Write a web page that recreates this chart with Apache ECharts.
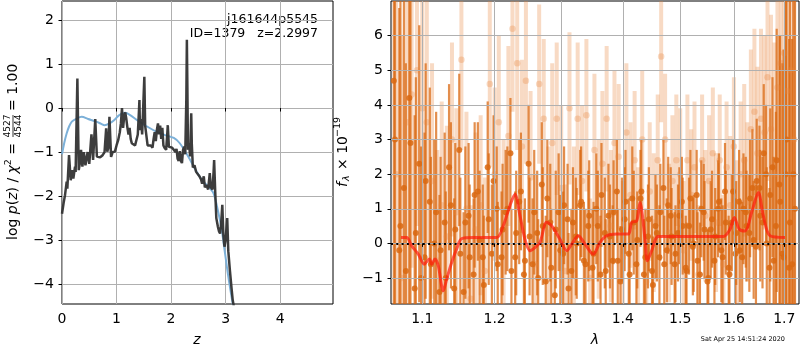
<!DOCTYPE html>
<html>
<head>
<meta charset="utf-8">
<script src="https://cdn.jsdelivr.net/npm/echarts@6/dist/echarts.min.js"></script>
<style>
  html, body { margin: 0; padding: 0; background: #fff; }
  #main { width: 800px; height: 350px; }
</style>
</head>
<body>
<div id="main"></div>
<script>
// left panel: log p(z) on a redshift grid, plus the smoother prior curve
var zGrid = [0.00, 0.03, 0.055, 0.086, 0.098, 0.129, 0.16, 0.184, 0.208, 0.239, 0.25, 0.282, 0.307, 0.331, 0.349, 0.374,
  0.40, 0.43, 0.47, 0.50, 0.54, 0.57, 0.61, 0.64, 0.66, 0.70, 0.74, 0.76, 0.78, 0.81, 0.83, 0.85, 0.87, 0.90, 0.93,
  0.97, 1.00, 1.03, 1.06, 1.08, 1.10, 1.12, 1.14, 1.16, 1.18, 1.20, 1.22, 1.24, 1.26, 1.28, 1.31, 1.34, 1.37, 1.39,
  1.41, 1.42, 1.43, 1.45, 1.47, 1.49, 1.51, 1.525, 1.55, 1.57, 1.60, 1.63, 1.66, 1.68, 1.70, 1.72, 1.74, 1.76, 1.78,
  1.80, 1.82, 1.84, 1.86, 1.88, 1.91, 1.93, 1.94, 1.96, 1.99, 2.02, 2.05, 2.08, 2.10, 2.12, 2.14, 2.16, 2.18, 2.20,
  2.22, 2.24, 2.26, 2.28, 2.29, 2.30, 2.31, 2.33, 2.35, 2.37, 2.38, 2.40, 2.43, 2.46, 2.49, 2.52, 2.55, 2.57, 2.60,
  2.62, 2.65, 2.68, 2.71, 2.73, 2.76, 2.78, 2.79, 2.81, 2.83, 2.86, 2.88, 2.90, 2.92, 2.94, 2.96, 2.98, 3.00, 3.03,
  3.05, 3.08, 3.11, 3.13, 3.15];
var logPz = [-2.40, -2.15, -1.98, -1.67, -1.83, -1.07, -1.64, -1.41, -1.60, -1.33, -1.45, 0.67, -1.41, -1.22, -0.95, -1.33,
  -1.00, -1.30, -1.00, -1.27, -0.60, -1.18, -0.25, -1.10, -1.11, -1.12, -1.08, -1.07, -1.00, -0.46, -0.99, -0.90, -0.20, -1.11, -1.00,
  -0.99, -0.85, -0.73, -0.55, -0.35, 0.00, -0.45, -0.20, -0.10, -0.25, -0.45, -0.60, -0.45, -0.70, -0.80, -0.78, -0.85, -0.82, -0.60,
  -0.10, 0.18, -0.50, -0.25, -0.60, 0.05, 0.71, -0.40, -0.65, -0.85, -0.88, -0.85, -0.90, -0.70, -0.55, -0.75, -0.50, -0.35, -0.60,
  -0.40, -0.70, -0.45, -0.85, -0.90, -0.95, -0.60, -0.39, -0.88, -0.92, -0.90, -0.95, -1.00, -0.93, -1.15, -1.20, -0.98, -1.20, -1.25,
  -0.95, -0.88, -1.05, 0.20, 1.55, 0.40, -0.95, -0.80, -1.10, -0.12, -0.80, -1.35, -1.30, -1.45, -1.45, -1.55, -1.62, -1.72, -1.55,
  -1.80, -1.75, -1.85, -1.48, -1.80, -1.85, -1.45, -1.18, -1.90, -2.50, -2.70, -2.80, -2.85, -2.60, -2.20, -2.90, -3.15, -3.00, -2.50,
  -3.25, -3.70, -4.10, -4.35, -4.50];
var zPrior = [0.00, 0.04, 0.085, 0.13, 0.18, 0.27, 0.36, 0.48, 0.63, 0.72, 0.78, 0.87, 0.96, 1.05, 1.16, 1.25, 1.37,
  1.56, 1.72, 1.88, 2.05, 2.16, 2.32, 2.45, 2.57, 2.69, 2.78, 2.87, 2.93, 2.99, 3.05, 3.12, 3.15];
var logPrior = [-1.05, -0.80, -0.58, -0.42, -0.31, -0.24, -0.20, -0.25, -0.31, -0.36, -0.39, -0.35, -0.27, -0.16, -0.11, -0.16, -0.27,
  -0.42, -0.53, -0.61, -0.68, -0.80, -1.11, -1.41, -1.64, -1.79, -1.94, -2.39, -2.77, -3.30, -3.83, -4.36, -4.55];

// right panel: spectrum points with errors and the model
var darkWave = [1.063, 1.070, 1.076, 1.083, 1.090, 1.096, 1.103, 1.110, 1.116, 1.123, 1.130, 1.136, 1.143, 1.150, 1.156,
  1.163, 1.170, 1.176, 1.183, 1.190, 1.196, 1.203, 1.210, 1.216, 1.223, 1.230, 1.236, 1.243, 1.250, 1.256, 1.263, 1.270,
  1.276, 1.283, 1.290, 1.296, 1.303, 1.310, 1.316, 1.323, 1.330, 1.336, 1.343, 1.350, 1.356, 1.363, 1.370, 1.376, 1.383,
  1.390, 1.396, 1.403, 1.410, 1.416, 1.423, 1.430, 1.436, 1.443, 1.450, 1.456, 1.463, 1.470, 1.476, 1.483, 1.490, 1.496,
  1.503, 1.510, 1.516, 1.523, 1.530, 1.536, 1.543, 1.550, 1.556, 1.563, 1.570, 1.576, 1.583, 1.590, 1.596, 1.603, 1.610,
  1.616, 1.623, 1.630, 1.636, 1.643, 1.650, 1.656, 1.663, 1.670, 1.676, 1.683, 1.690, 1.696, 1.703, 1.710, 1.716, 1.722];
var darkFlux = [4.7, -0.2, 1.6, 4.2, -1.3, 2.3, -0.4, 1.2, 0.0, -1.4, 0.6, 2.2, -1.3, 2.7, -1.4,
  0.8, -0.9, 1.5, -0.4, 2.2, -0.3, 1.0, -0.4, 0.9, 2.6, -0.4, 1.2, -0.9, 2.3, -0.6, 0.3, 1.7,
  -1.1, 0.6, -1.5, 0.9, -0.3, 0.7, -0.8, 0.2, 1.1, -0.5, 0.5, -0.7, 1.0, -0.9, 0.3, 0.8, -0.5,
  1.5, -1.1, 0.7, -0.3, 1.3, -0.6, 1.3, -0.9, 0.2, -0.8, 0.5, -0.4, 1.6, -0.2, 0.8, -0.6, 0.3,
  1.2, -0.7, 0.5, -0.1, 1.4, -0.9, 0.9, -1.1, 0.4, -0.5, 1.0, -0.2, 1.5, -0.7, 0.6, -0.3, 1.2,
  -0.4, 0.9, 0.3, 1.6, -0.1, 1.6, 0.6, 2.0, -0.7, 2.2, 0.5, 1.7, -0.3, 2.0, -0.7, -0.6, 1.0];
var darkErr = [9.0, 7.0, 6.0, 7.0, 5.0, 4.0, 3.6, 3.3, 3.0, 2.8, 2.6, 2.4, 2.6, 2.2, 2.3,
  2.1, 2.2, 2.0, 2.1, 1.9, 2.0, 1.8, 1.9, 1.8, 1.6, 1.9, 1.8, 1.9, 1.7, 1.9, 1.8, 1.8,
  1.9, 1.7, 1.8, 1.7, 1.8, 1.6, 1.8, 1.7, 1.6, 1.7, 1.6, 1.7, 1.6, 1.7, 1.6, 1.5, 1.6,
  1.5, 1.6, 1.5, 1.6, 1.5, 1.6, 1.4, 1.6, 1.5, 1.6, 1.5, 1.5, 1.4, 1.5, 1.4, 1.5, 1.4,
  1.3, 1.5, 1.4, 1.4, 1.3, 1.5, 1.4, 1.5, 1.4, 1.5, 1.4, 1.5, 1.4, 1.5, 1.4, 1.6, 1.5,
  1.6, 1.6, 1.7, 1.7, 1.8, 1.8, 1.9, 2.0, 2.3, 2.6, 3.3, 4.3, 5.5, 7.0, 6.6, 6.5, 8.0];
var darkWave2 = [1.0645, 1.0715, 1.0785, 1.0845, 1.0915, 1.0985, 1.1045, 1.1115, 1.1185, 1.1245, 1.1315, 1.1385, 1.1445, 1.1515, 1.1585,
  1.1645, 1.1715, 1.1785, 1.1845, 1.1915, 1.1985, 1.2045, 1.2115, 1.2185, 1.2245, 1.2315, 1.2385, 1.2445, 1.2515, 1.2585, 1.2645, 1.2715,
  1.2785, 1.2845, 1.2915, 1.2985, 1.3045, 1.3115, 1.3185, 1.3245, 1.3315, 1.3385, 1.3445, 1.3515, 1.3585, 1.3645, 1.3715, 1.3785, 1.3845,
  1.3915, 1.3985, 1.4045, 1.4115, 1.4185, 1.4245, 1.4315, 1.4385, 1.4445, 1.4515, 1.4585, 1.4645, 1.4715, 1.4785, 1.4845, 1.4915, 1.4985,
  1.5045, 1.5115, 1.5185, 1.5245, 1.5315, 1.5385, 1.5445, 1.5515, 1.5585, 1.5645, 1.5715, 1.5785, 1.5845, 1.5915, 1.5985, 1.6045, 1.6115,
  1.6185, 1.6245, 1.6315, 1.6385, 1.6445, 1.6515, 1.6585, 1.6645, 1.6715, 1.6785, 1.6845, 1.6915, 1.6985, 1.7045, 1.7115, 1.7185];
var darkFlux2 = [3.0, 0.5, -0.8, 2.9, 0.3, -1.0, 1.8, -0.6, 0.9, -0.2, -1.0, 1.1, 0.4, -0.3, 0.6,
  -0.4, 1.4, 0.1, -1.2, 0.7, 1.8, -0.6, 0.4, 1.0, -0.8, 0.3, 1.5, -0.5, 0.2, 0.9, -1.0, 0.5,
  1.3, -0.7, 0.4, -0.2, 1.1, -1.3, 0.6, 0.0, 1.2, -0.6, 0.8, -0.3, 0.5, 1.4, -0.8, 0.2, 0.9,
  -0.5, 0.4, 1.2, -0.9, 0.6, 0.1, 1.5, -0.4, 0.7, -1.2, 0.3, 0.9, -0.6, 1.1, 0.2, -0.3, 0.8,
  0.5, -0.8, 1.3, 0.0, -0.5, 1.0, 0.4, -1.0, 0.7, 0.2, 1.2, -0.4, 0.6, -0.9, 1.5, 0.3, -0.2,
  1.0, 0.5, 1.3, 0.1, 1.8, 0.8, 2.6, 0.0, 1.4, -0.5, 2.4, 1.2, -0.4, 3.0, 0.6, 2.0];
var darkErr2 = [8.0, 6.5, 6.0, 5.5, 4.5, 3.8, 3.4, 3.1, 2.9, 2.7, 2.5, 2.4, 2.5, 2.2, 2.2,
  2.1, 2.1, 2.0, 2.0, 1.9, 1.9, 1.8, 1.9, 1.8, 1.8, 1.8, 1.7, 1.8, 1.7, 1.8, 1.7, 1.7,
  1.7, 1.7, 1.7, 1.6, 1.7, 1.6, 1.6, 1.6, 1.6, 1.6, 1.6, 1.5, 1.6, 1.5, 1.5, 1.5, 1.5,
  1.5, 1.5, 1.5, 1.5, 1.5, 1.4, 1.5, 1.4, 1.5, 1.4, 1.4, 1.4, 1.4, 1.4, 1.4, 1.4, 1.4,
  1.4, 1.4, 1.4, 1.4, 1.4, 1.4, 1.4, 1.4, 1.4, 1.4, 1.4, 1.5, 1.5, 1.5, 1.5, 1.5, 1.5,
  1.6, 1.6, 1.7, 1.7, 1.8, 1.9, 2.0, 2.2, 2.5, 3.0, 3.8, 4.8, 6.0, 7.5, 8.0, 9.0];
var lightWave = [1.066, 1.073, 1.080, 1.086, 1.093, 1.100, 1.106, 1.113, 1.120, 1.126, 1.133, 1.140, 1.146, 1.153, 1.160,
  1.166, 1.173, 1.180, 1.186, 1.193, 1.200, 1.206, 1.213, 1.220, 1.226, 1.233, 1.240, 1.246, 1.253, 1.260, 1.266, 1.273,
  1.280, 1.286, 1.293, 1.300, 1.306, 1.313, 1.320, 1.326, 1.333, 1.340, 1.346, 1.353, 1.360, 1.366, 1.373, 1.380, 1.386,
  1.393, 1.400, 1.406, 1.413, 1.420, 1.426, 1.433, 1.440, 1.446, 1.453, 1.460, 1.466, 1.473, 1.480, 1.486, 1.493, 1.500,
  1.506, 1.513, 1.520, 1.526, 1.533, 1.540, 1.546, 1.553, 1.560, 1.566, 1.573, 1.580, 1.586, 1.593, 1.600, 1.606, 1.613,
  1.620, 1.626, 1.633, 1.640, 1.646, 1.653, 1.660, 1.666, 1.673, 1.680, 1.686, 1.693, 1.700, 1.706, 1.713, 1.720];
var lightFlux = [2.0, -1.0, 3.5, 4.3, 5.0, 3.9, 3.5, 1.8, -0.5, 1.1, 0.2, 3.0, 0.9, 5.3, 1.0,
  -1.6, 0.4, 1.1, -0.8, 4.6, 2.0, 3.5, 0.4, 3.1, 6.2, 5.2, 2.8, 4.7, 1.9, -0.6, 4.6, 3.6,
  0.3, 2.9, 3.6, 1.6, -0.8, 3.9, 0.5, 3.6, 1.8, 3.7, -1.0, 2.7, 0.7, 2.3, 3.6, 0.5, 2.9,
  2.5, -0.4, 3.2, 1.4, 2.4, 0.1, 3.0, -1.1, 1.5, 0.6, 2.4, 5.4, 3.0, 0.3, 1.8, 2.4, 2.0,
  -0.2, 2.4, 1.4, 2.2, -0.9, 2.4, 0.8, 1.8, 2.6, 0.6, 2.4, -0.6, 2.2, 1.1, 2.8, 0.3, 2.0,
  2.4, 1.2, 3.3, 3.8, 2.6, 3.6, 3.2, 4.8, 3.3, 2.0, 4.5, 5.2, 5.5, 4.4, 5.0, 3.0];
var lightErr = [8.0, 7.0, 6.0, 5.0, 4.5, 3.8, 3.5, 3.4, 3.2, 3.0, 3.2, 2.8, 3.0, 2.6, 2.8,
  2.7, 2.8, 2.6, 2.7, 2.4, 2.5, 2.5, 2.6, 2.6, 2.4, 2.5, 2.5, 2.4, 2.5, 2.6, 2.3, 2.3,
  2.5, 2.3, 2.2, 2.4, 2.5, 2.2, 2.3, 2.2, 2.2, 2.2, 2.3, 2.2, 2.3, 2.1, 2.1, 2.2, 2.1,
  2.1, 2.2, 2.0, 2.1, 2.0, 2.1, 2.0, 2.1, 2.0, 2.0, 1.9, 1.9, 1.9, 2.0, 1.9, 1.9, 1.9,
  2.0, 1.9, 1.9, 1.9, 2.0, 1.9, 1.9, 1.9, 1.9, 2.0, 1.9, 2.0, 1.9, 2.0, 2.0, 2.1, 2.1,
  2.2, 2.3, 2.3, 2.4, 2.5, 2.6, 2.8, 3.0, 3.3, 3.8, 4.5, 5.2, 6.0, 7.0, 8.0, 9.0];
var modelWave = [1.0722, 1.0796, 1.0861, 1.0947, 1.1026, 1.1093, 1.1125, 1.1169, 1.1214, 1.1281, 1.1328, 1.1396, 1.1465,
  1.1534, 1.1696, 1.2030, 1.2125, 1.2223, 1.2297, 1.2371, 1.2446, 1.2521, 1.2596, 1.2672, 1.2775, 1.2852, 1.2981, 1.3086,
  1.3165, 1.3270, 1.3377, 1.3511, 1.3621, 1.3731, 1.3897, 1.4092, 1.4150, 1.4235, 1.4292, 1.4378, 1.4418, 1.4494, 1.4610,
  1.4996, 1.5798, 1.5925, 1.6008, 1.6104, 1.6215, 1.6346, 1.6477, 1.6576, 1.6710, 1.7014];
var modelFlux = [0.17, 0.17, -0.07, -0.31, -0.60, -0.45, -0.60, -0.45, -0.65, -1.37, -1.03, -0.55, -0.16,
  0.14, 0.17, 0.17, 0.51, 1.09, 1.42, 0.80, 0.12, -0.21, -0.12, 0.03, 0.61, 0.51, 0.12, -0.21,
  -0.02, 0.22, -0.02, -0.31, 0.03, 0.22, 0.27, 0.27, 0.61, 0.65, 1.18, 0.12, -0.50, -0.21, 0.20,
  0.20, 0.20, 0.41, 0.75, 0.41, 0.36, 0.90, 1.47, 0.80, 0.22, 0.17];

// tick labels
var zTicks = [0, 1, 2, 3, 4];
var pzTicks = [-4, -3, -2, -1, 0, 1, 2];
var waveTicks = [1.1, 1.2, 1.3, 1.4, 1.5, 1.6, 1.7];
var fluxTicks = [-1, 0, 1, 2, 3, 4, 5, 6];

var FONT = 'DejaVu Sans';
var DARK = '#d96812';
var LIGHT = '#e8843a';
var minus = function (v) { return String(v).replace('-', '\u2212'); };

function zip2(a, b) { return a.map(function (v, i) { return [v, b[i]]; }); }
function zip3(a, b, c) { return a.map(function (v, i) { return [v, b[i], c[i]]; }); }

function errBar(color, opacity, width) {
    return function (params, api) {
        var x = api.value(0), y = api.value(1), e = api.value(2);
        var p1 = api.coord([x, y - e]);
        var p2 = api.coord([x, y + e]);
        return {
            type: 'line',
            shape: { x1: p1[0], y1: p1[1], x2: p2[0], y2: p2[1] },
            style: { stroke: color, lineWidth: width, opacity: opacity }
        };
    };
}

function errSeries(data, color, opacity, width) {
    return {
        type: 'custom', xAxisIndex: 1, yAxisIndex: 1, clip: true,
        data: data, encode: { x: 0, y: 1 },
        renderItem: errBar(color, opacity, width)
    };
}

function dotSeries(data, color, opacity, size) {
    return {
        type: 'scatter', xAxisIndex: 1, yAxisIndex: 1, clip: true,
        data: data, symbolSize: size,
        itemStyle: { color: color, opacity: opacity }
    };
}

var gridLine = { show: true, lineStyle: { color: '#b0b0b0', width: 1 } };
var tick = { show: true, inside: false, length: 3.5, lineStyle: { color: '#000', width: 1 } };
var label = { fontFamily: FONT, fontSize: 14, color: '#000', margin: 8 };

var myChart = echarts.init(document.getElementById('main'));

var option = {
    animation: false,
    backgroundColor: '#fff',
    grid: [
        { left: 62, top: 1, width: 271, height: 303, show: true, borderColor: '#000', borderWidth: 1 },
        { left: 391, top: 1, width: 408, height: 303, show: true, borderColor: '#000', borderWidth: 1 }
    ],
    xAxis: [
        {
            gridIndex: 0, type: 'value', min: 0, max: 4.97,
            axisLine: { show: false },
            axisTick: Object.assign({ customValues: zTicks }, tick),
            axisLabel: Object.assign({ customValues: zTicks, formatter: minus }, label),
            splitLine: gridLine
        },
        {
            gridIndex: 1, type: 'log', logBase: 10, min: 1.0594, max: 1.7303, z: 5,
            axisLine: { show: false },
            axisTick: Object.assign({ customValues: waveTicks }, tick),
            axisLabel: Object.assign({ customValues: waveTicks, formatter: function (v) { return (+v).toFixed(1); } }, label),
            splitLine: gridLine
        }
    ],
    yAxis: [
        {
            gridIndex: 0, type: 'value', min: -4.45, max: 2.43,
            axisLine: { show: false },
            axisTick: Object.assign({ customValues: pzTicks }, tick),
            axisLabel: Object.assign({ customValues: pzTicks, formatter: minus }, label),
            splitLine: gridLine
        },
        {
            gridIndex: 1, type: 'value', min: -1.75, max: 7.0, z: 5,
            axisLine: { show: false },
            axisTick: Object.assign({ customValues: fluxTicks }, tick),
            axisLabel: Object.assign({ customValues: fluxTicks, formatter: minus }, label),
            splitLine: gridLine
        }
    ],
    series: [
        {
            type: 'line', xAxisIndex: 0, yAxisIndex: 0, data: zip2(zPrior, logPrior),
            showSymbol: false, clip: true, smooth: 0.3,
            lineStyle: { color: '#7cb0d8', width: 2 }
        },
        {
            type: 'line', xAxisIndex: 0, yAxisIndex: 0, data: zip2(zGrid, logPz),
            showSymbol: false, clip: true,
            lineStyle: { color: '#333333', width: 2.5, opacity: 0.95 }
        },
        errSeries(zip3(lightWave, lightFlux, lightErr), LIGHT, 0.3, 4),
        dotSeries(zip2(lightWave, lightFlux), LIGHT, 0.3, 6.5),
        errSeries(zip3(darkWave, darkFlux, darkErr), DARK, 0.75, 2.2),
        errSeries(zip3(darkWave2, darkFlux2, darkErr2), DARK, 0.75, 2.2),
        dotSeries(zip2(darkWave, darkFlux), DARK, 0.85, 6),
        dotSeries(zip2(darkWave2, darkFlux2), DARK, 0.85, 6),
        {
            type: 'line', xAxisIndex: 1, yAxisIndex: 1, data: zip2(modelWave, modelFlux),
            showSymbol: false, clip: true, smooth: 0.3, z: 8,
            lineStyle: { color: '#ff1a0a', width: 3, opacity: 0.7 },
            markLine: {
                silent: true, symbol: 'none', label: { show: false },
                lineStyle: { color: '#000', width: 2, type: [2, 3.3], opacity: 1 },
                data: [{ yAxis: 0 }]
            }
        }
    ],
    graphic: [
        {
            type: 'text', x: 318, y: 20,
            style: { text: 'j161644p5545', fontFamily: FONT, fontSize: 12.5, fill: '#000', align: 'right', verticalAlign: 'middle' }
        },
        {
            type: 'text', x: 318, y: 34,
            style: { text: 'ID=1379   z=2.2997', fontFamily: FONT, fontSize: 12.5, fill: '#000', align: 'right', verticalAlign: 'middle' }
        },
        {
            type: 'group', x: 13, y: 240, rotation: Math.PI / 2,
            children: [
                {
                    type: 'text', x: 0, y: 0,
                    style: {
                        text: '{n|log }{i|p}{n|(}{i|z}{n|) / }{i|\u03c7}{s|2}{n| =}',
                        verticalAlign: 'middle', align: 'left',
                        rich: {
                            n: { fontFamily: FONT, fontSize: 14, fill: '#000', lineHeight: 18 },
                            i: { fontFamily: FONT, fontSize: 14, fontStyle: 'italic', fill: '#000', lineHeight: 18 },
                            s: { fontFamily: FONT, fontSize: 9.5, fill: '#000', verticalAlign: 'top', lineHeight: 18 }
                        }
                    }
                },
                { type: 'text', x: 114, y: -5.5, style: { text: '4527', fontFamily: FONT, fontSize: 9, fill: '#000', align: 'center', verticalAlign: 'middle' } },
                { type: 'line', shape: { x1: 103, y1: 0, x2: 125, y2: 0 }, style: { stroke: '#000', lineWidth: 0.8 } },
                { type: 'text', x: 114, y: 5.5, style: { text: '4544', fontFamily: FONT, fontSize: 9, fill: '#000', align: 'center', verticalAlign: 'middle' } },
                { type: 'text', x: 129, y: 0, style: { text: '= 1.00', fontFamily: FONT, fontSize: 14, fill: '#000', align: 'left', verticalAlign: 'middle' } }
            ]
        },
        {
            type: 'group', x: 343, y: 187, rotation: Math.PI / 2,
            children: [
                { type: 'text', x: 0, y: 0, style: { text: 'f', fontFamily: FONT, fontSize: 14, fontStyle: 'italic', fill: '#000', align: 'left', verticalAlign: 'middle' } },
                { type: 'text', x: 6, y: 4, style: { text: '\u03bb', fontFamily: FONT, fontSize: 9.5, fontStyle: 'italic', fill: '#000', align: 'left', verticalAlign: 'middle' } },
                { type: 'text', x: 17, y: 0, style: { text: '\u00d7 10', fontFamily: FONT, fontSize: 14, fill: '#000', align: 'left', verticalAlign: 'middle' } },
                { type: 'text', x: 50, y: -5, style: { text: '\u221219', fontFamily: FONT, fontSize: 9.5, fill: '#000', align: 'left', verticalAlign: 'middle' } }
            ]
        },
        {
            type: 'text', x: 197, y: 340,
            style: { text: 'z', fontFamily: FONT, fontSize: 14, fontStyle: 'italic', fill: '#000', align: 'center', verticalAlign: 'middle' }
        },
        {
            type: 'text', x: 595, y: 340,
            style: { text: '\u03bb', fontFamily: FONT, fontSize: 14, fontStyle: 'italic', fill: '#000', align: 'center', verticalAlign: 'middle' }
        },
        {
            type: 'text', x: 785, y: 339,
            style: { text: 'Sat Apr 25 14:51:24 2020', fontFamily: FONT, fontSize: 6.5, fill: '#000', align: 'right', verticalAlign: 'middle' }
        }
    ]
};

myChart.setOption(option);
</script>
</body>
</html>
